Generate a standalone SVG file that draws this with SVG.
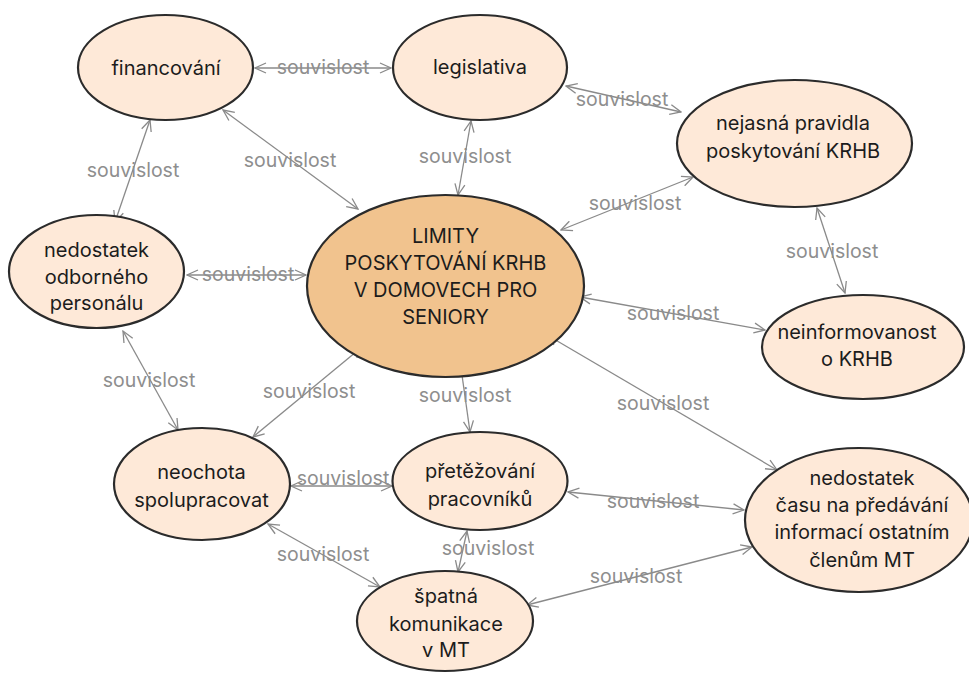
<svg xmlns="http://www.w3.org/2000/svg" width="969" height="673" viewBox="0 0 969 673">
  <style>
    .node ellipse { fill: #fee9d8; stroke: #2b2b2b; stroke-width: 2.2; }
    .node.core ellipse { fill: #f1c38e; }
    .node text { font-family: Inter, "Liberation Sans", sans-serif; font-size: 20px; fill: #1c1c1c; text-anchor: middle; }
    .edge line { stroke: #8a8a8a; stroke-width: 1.3; marker-start: url(#arr); marker-end: url(#arr); }
    .edge text { font-family: Inter, "Liberation Sans", sans-serif; font-size: 19.5px; fill: #8e8e8e; text-anchor: middle; }
  </style>
  <defs>
    <marker id="arr" viewBox="0 0 13 12" refX="12" refY="6" markerWidth="13" markerHeight="12" markerUnits="userSpaceOnUse" orient="auto-start-reverse">
      <path d="M1,1 L12,6 L1,11" fill="none" stroke="#8a8a8a" stroke-width="1.3"/>
    </marker>
  </defs>
  <rect width="969" height="673" fill="#ffffff"/>

  <g id="connectors">
    <g class="edge"><line x1="255" y1="68" x2="391" y2="68"/><text x="323" y="74">souvislost</text></g>
    <g class="edge"><line x1="566" y1="86" x2="681" y2="112"/><text x="622" y="106">souvislost</text></g>
    <g class="edge"><line x1="223" y1="110" x2="358" y2="209"/><text x="290" y="167">souvislost</text></g>
    <g class="edge"><line x1="471" y1="121" x2="458" y2="195"/><text x="465" y="163">souvislost</text></g>
    <g class="edge"><line x1="693" y1="177" x2="561" y2="230"/><text x="635" y="210">souvislost</text></g>
    <g class="edge"><line x1="150" y1="120" x2="115" y2="222"/><text x="133" y="177">souvislost</text></g>
    <g class="edge"><line x1="187" y1="275" x2="306" y2="275"/><text x="248" y="281">souvislost</text></g>
    <g class="edge"><line x1="817" y1="208" x2="845" y2="293"/><text x="832" y="258">souvislost</text></g>
    <g class="edge"><line x1="580" y1="297" x2="765" y2="330"/><text x="673" y="320">souvislost</text></g>
    <g class="edge"><line x1="123" y1="331" x2="178" y2="430"/><text x="149" y="387">souvislost</text></g>
    <g class="edge"><line x1="362" y1="347" x2="253" y2="437"/><text x="309" y="398">souvislost</text></g>
    <g class="edge"><line x1="460" y1="361" x2="470" y2="432"/><text x="465" y="402">souvislost</text></g>
    <g class="edge"><line x1="547" y1="335" x2="777" y2="470"/><text x="663" y="410">souvislost</text></g>
    <g class="edge"><line x1="291" y1="486" x2="392" y2="486"/><text x="343" y="485">souvislost</text></g>
    <g class="edge"><line x1="568" y1="492" x2="744" y2="510"/><text x="653" y="508">souvislost</text></g>
    <g class="edge"><line x1="268" y1="524" x2="380" y2="587"/><text x="323" y="561">souvislost</text></g>
    <g class="edge"><line x1="467" y1="531" x2="458" y2="572"/><text x="488" y="555">souvislost</text></g>
    <g class="edge"><line x1="527" y1="605" x2="752" y2="547"/><text x="636" y="583">souvislost</text></g>
  </g>

  <g id="financovani" class="node">
    <ellipse cx="165.5" cy="67.5" rx="87.5" ry="52.5"/>
    <text x="166" y="75">financování</text>
  </g>
  <g id="legislativa" class="node">
    <ellipse cx="480" cy="67.5" rx="87" ry="52.5"/>
    <text x="480" y="74">legislativa</text>
  </g>
  <g id="nejasna-pravidla" class="node">
    <ellipse cx="794.5" cy="143.5" rx="117.5" ry="63.5"/>
    <text x="793" y="130">nejasná pravidla</text>
    <text x="793" y="158">poskytování KRHB</text>
  </g>
  <g id="limity" class="node core">
    <ellipse cx="445.5" cy="286" rx="138.5" ry="91"/>
    <text x="445.5" y="243">LIMITY</text>
    <text x="445.5" y="270">POSKYTOVÁNÍ KRHB</text>
    <text x="445.5" y="297">V DOMOVECH PRO</text>
    <text x="445.5" y="324">SENIORY</text>
  </g>
  <g id="nedostatek-personalu" class="node">
    <ellipse cx="96.5" cy="271.5" rx="87.5" ry="56.5"/>
    <text x="96.5" y="257">nedostatek</text>
    <text x="96.5" y="284">odborného</text>
    <text x="96.5" y="310">personálu</text>
  </g>
  <g id="neinformovanost" class="node">
    <ellipse cx="863" cy="347" rx="101" ry="52"/>
    <text x="857" y="339">neinformovanost</text>
    <text x="857" y="366">o KRHB</text>
  </g>
  <g id="neochota" class="node">
    <ellipse cx="202" cy="484" rx="88" ry="56"/>
    <text x="201.5" y="479">neochota</text>
    <text x="201.5" y="507">spolupracovat</text>
  </g>
  <g id="pretezovani" class="node">
    <ellipse cx="480" cy="481" rx="87.5" ry="49"/>
    <text x="480" y="478">přetěžování</text>
    <text x="480" y="506">pracovníků</text>
  </g>
  <g id="nedostatek-casu" class="node">
    <ellipse cx="859" cy="520" rx="114" ry="72"/>
    <text x="862" y="485">nedostatek</text>
    <text x="862" y="512">času na předávání</text>
    <text x="862" y="539">informací ostatním</text>
    <text x="862" y="567">členům MT</text>
  </g>
  <g id="spatna-komunikace" class="node">
    <ellipse cx="445" cy="621" rx="88" ry="50"/>
    <text x="446" y="603">špatná</text>
    <text x="446" y="631">komunikace</text>
    <text x="446" y="657">v MT</text>
  </g>
</svg>
